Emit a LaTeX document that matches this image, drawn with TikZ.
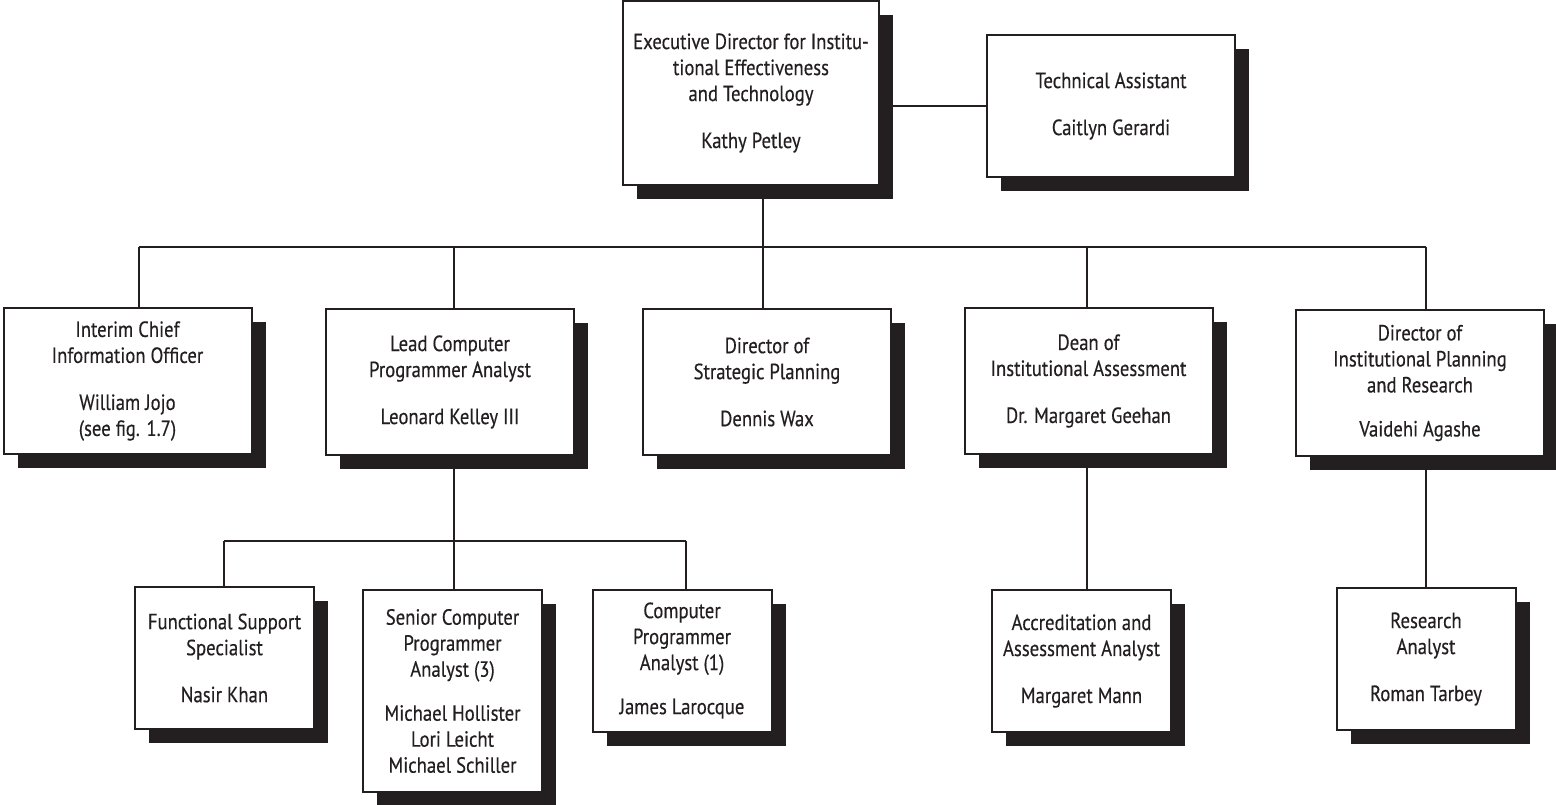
\documentclass[tikz,border=0pt]{standalone}
\usepackage{fontspec}
\newfontfamily\orgfont[FakeStretch=0.85,FakeBold=0.35]{PT Sans}
\usetikzlibrary{shadows}
\definecolor{ink}{RGB}{35,31,32}
\begin{document}
\begin{tikzpicture}[x=1pt,y=-1pt,
  orgbox/.style={draw=ink, line width=2pt, fill=white, align=center,
    text=ink, inner sep=0pt,
    font={\orgfont\fontsize{22}{26}\selectfont},
    drop shadow={shadow xshift=14pt, shadow yshift=-14pt, fill=ink, opacity=1}},
  wide/.style={orgbox, minimum width=248pt, minimum height=146pt},
  narrow/.style={orgbox, minimum width=179pt, minimum height=142pt},
  link/.style={draw=ink, line width=2.6pt}]
\useasboundingbox (0,0) rectangle (1556,805);

% top level
\node[orgbox, minimum width=256pt, minimum height=184pt] (exec) at (751,93)
  {Executive Director for Institu-\\tional Effectiveness\\and Technology\\[21pt]Kathy Petley};
\node[orgbox, minimum width=248pt, minimum height=142pt] (tech) at (1111,106)
  {Technical Assistant\\[21pt]Caitlyn Gerardi};

% second level
\node[wide] (interim) at (127.5,381) {Interim Chief\\Information Officer\\[21pt]William Jojo\\(see fig. 1.7)};
\node[wide] (lead) at (450,382) {Lead Computer\\Programmer Analyst\\[21pt]Leonard Kelley III};
\node[wide] (strat) at (767,382) {Director of\\Strategic Planning\\[21pt]Dennis Wax};
\node[wide] (dean) at (1088.5,381) {Dean of\\Institutional Assessment\\[21pt]Dr. Margaret Geehan};
\node[wide] (ipr) at (1420,383) {Director of\\Institutional Planning\\and Research\\[18pt]Vaidehi Agashe};

% third level
\node[narrow] (func) at (224.5,658) {Functional Support\\Specialist\\[21pt]Nasir Khan};
\node[narrow, minimum height=202pt] (senior) at (452.5,691)
  {Senior Computer\\Programmer\\Analyst (3)\\[18pt]Michael Hollister\\Lori Leicht\\Michael Schiller};
\node[narrow] (comp) at (682,660.5) {Computer\\Programmer\\Analyst (1)\\[18pt]James Larocque};
\node[narrow] (accr) at (1081.5,661) {Accreditation and\\Assessment Analyst\\[21pt]Margaret Mann};
\node[narrow] (res) at (1426,659) {Research\\Analyst\\[21pt]Roman Tarbey};

% junction points of the connectors
\coordinate (execdrop) at (763,185);
\coordinate (busI) at (139,247);
\coordinate (busL) at (454,247);
\coordinate (busS) at (763,247);
\coordinate (busD) at (1087,247);
\coordinate (busR) at (1426,247);
\coordinate (subF) at (224,541);
\coordinate (subS) at (454,541);
\coordinate (subC) at (686,541);

% connectors
\draw[link] (tech.west) -- (tech.west -| exec.east);
\draw[link] (execdrop) -- (busS);
\draw[link] (busI) -- (busR);
\draw[link] (busI) -- (busI |- interim.north);
\draw[link] (busL) -- (busL |- lead.north);
\draw[link] (busS) -- (busS |- strat.north);
\draw[link] (busD) -- (busD |- dean.north);
\draw[link] (busR) -- (busR |- ipr.north);
\draw[link] (subS |- lead.south) -- (subS);
\draw[link] (subF) -- (subC);
\draw[link] (subF) -- (subF |- func.north);
\draw[link] (subS) -- (subS |- senior.north);
\draw[link] (subC) -- (subC |- comp.north);
\draw[link] (busD |- dean.south) -- (busD |- accr.north);
\draw[link] (busR |- ipr.south) -- (busR |- res.north);
\end{tikzpicture}
\end{document}
